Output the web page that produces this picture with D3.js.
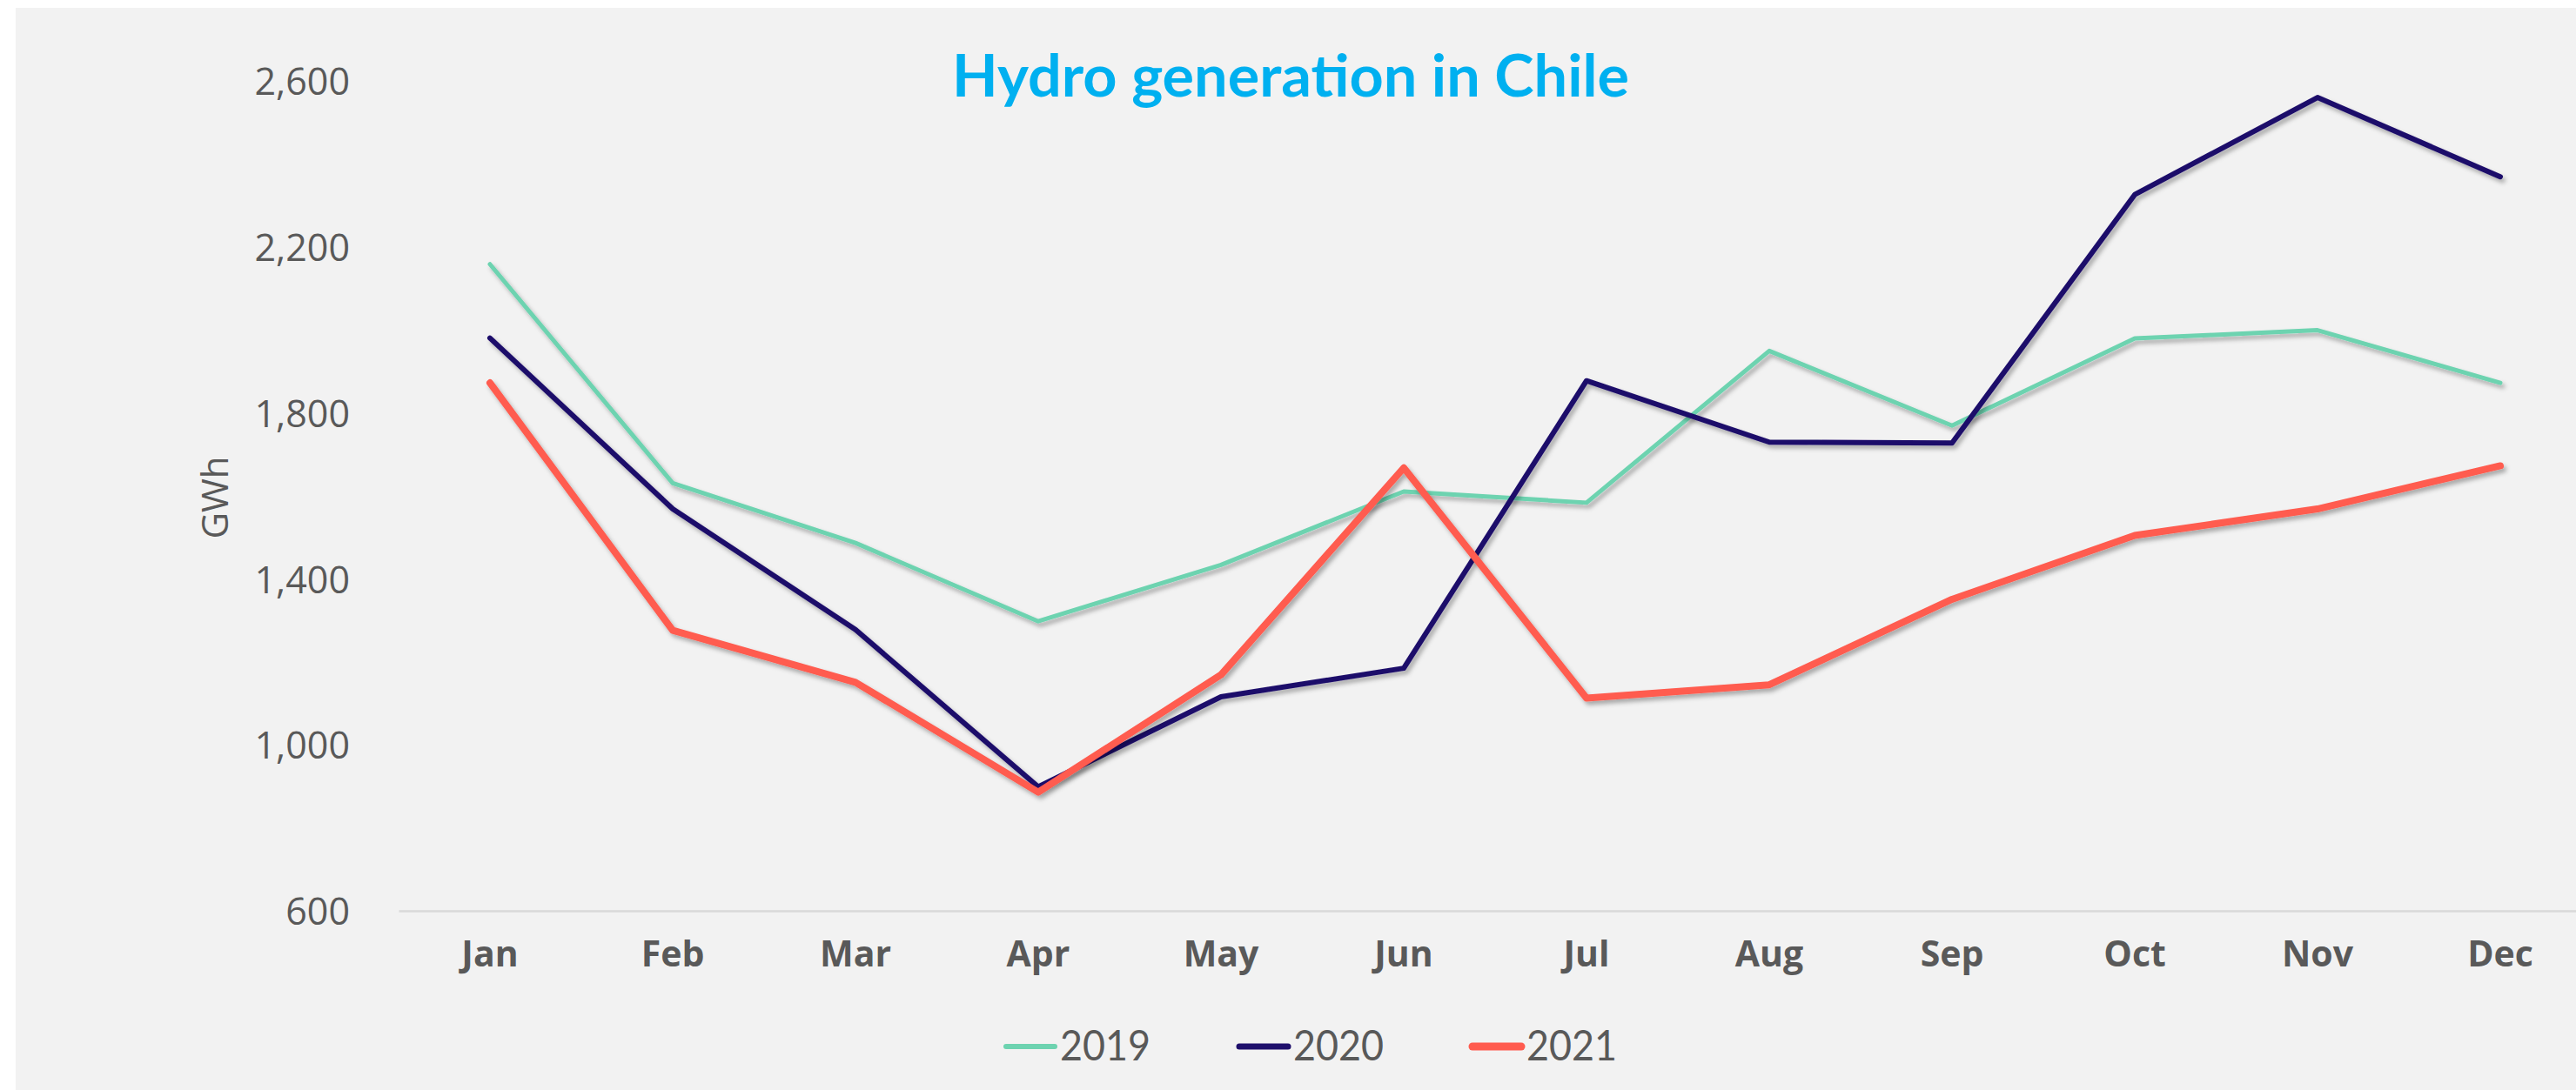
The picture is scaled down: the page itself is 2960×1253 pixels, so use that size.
<!DOCTYPE html>
<html>
<head>
<meta charset="utf-8">
<script src="https://cdn.jsdelivr.net/npm/d3@7"></script>
<style>
  html, body { margin: 0; padding: 0; background: #ffffff; }
  svg { display: block; }
</style>
</head>
<body>
<svg id="chart"></svg>
<script>
// Chart data (GWh)
const months = ["Jan", "Feb", "Mar", "Apr", "May", "Jun", "Jul", "Aug", "Sep", "Oct", "Nov", "Dec"];
const years = ["2019", "2020", "2021"];
const hydro2019 = [2159, 1631, 1487, 1298, 1434, 1611, 1584, 1950, 1770, 1980, 2000, 1873];
const hydro2020 = [1981, 1569, 1278, 899, 1116, 1185, 1878, 1730, 1728, 2327, 2561, 2370];
const hydro2021 = [1873, 1276, 1151, 886, 1169, 1668, 1113, 1145, 1351, 1505, 1569, 1673];
const yTicks = [600, 1000, 1400, 1800, 2200, 2600];

const width = 2960, height = 1253;
const colors = { "2019": "#6dd3b0", "2020": "#1e0f6b", "2021": "#ff5b4f" };
const widths = { "2019": 5, "2020": 6, "2021": 8 };

const series = [
  { year: "2019", values: hydro2019 },
  { year: "2020", values: hydro2020 },
  { year: "2021", values: hydro2021 }
];

const svg = d3.select("#chart")
  .attr("width", width)
  .attr("height", height);

// drop shadow like the office chart
const defs = svg.append("defs");
defs.append("filter")
  .attr("id", "shadow")
  .attr("x", "-5%").attr("y", "-5%")
  .attr("width", "110%").attr("height", "115%")
  .append("feDropShadow")
  .attr("dx", 3).attr("dy", 4)
  .attr("stdDeviation", 2.5)
  .attr("flood-color", "#000")
  .attr("flood-opacity", 0.3);

// grey chart area
svg.append("rect")
  .attr("x", 18).attr("y", 9)
  .attr("width", width - 18).attr("height", height - 9)
  .attr("fill", "#f2f2f2");

const x = d3.scaleBand()
  .domain(months)
  .range([458, 2978])
  .padding(0);

const y = d3.scaleLinear()
  .domain([600, 2600])
  .range([1047, 93.5]);

const cx = m => x(m) + x.bandwidth() / 2;

// title
svg.append("text")
  .attr("x", 1483)
  .attr("y", 111)
  .attr("text-anchor", "middle")
  .attr("textLength", 778)
  .attr("lengthAdjust", "spacingAndGlyphs")
  .style("font-family", "Lato, 'Open Sans', sans-serif")
  .style("font-weight", "bold")
  .style("font-size", "66px")
  .style("fill", "#00b0f0")
  .text("Hydro generation in Chile");

// y axis labels (no line, no ticks)
const yAxis = svg.append("g")
  .attr("transform", "translate(458,0)")
  .call(d3.axisLeft(y).tickValues(yTicks).tickFormat(d3.format(",")).tickSize(0).tickPadding(56));
yAxis.select(".domain").remove();
yAxis.selectAll("text")
  .attr("dy", "0.36em")
  .style("font-family", "'Open Sans', sans-serif")
  .style("font-size", "43px")
  .style("fill", "#595959");

// x axis
const xAxis = svg.append("g")
  .attr("transform", "translate(0,1047)")
  .call(d3.axisBottom(x).tickSize(0).tickPadding(64));
xAxis.select(".domain")
  .attr("stroke", "#d9d9d9")
  .attr("stroke-width", 2.5);
xAxis.selectAll("text")
  .attr("dy", 0)
  .style("font-family", "'Open Sans', sans-serif")
  .style("font-weight", "bold")
  .style("font-size", "41px")
  .style("fill", "#595959");

// y axis title
svg.append("text")
  .attr("transform", "translate(262,572) rotate(-90)")
  .attr("text-anchor", "middle")
  .style("font-family", "'Open Sans', sans-serif")
  .style("font-size", "42px")
  .style("fill", "#595959")
  .text("GWh");

// lines
const line = d3.line()
  .x((d, i) => cx(months[i]))
  .y(d => y(d));

svg.append("g")
  .selectAll("path")
  .data(series)
  .join("path")
  .attr("d", d => line(d.values))
  .attr("fill", "none")
  .attr("stroke", d => colors[d.year])
  .attr("stroke-width", d => widths[d.year])
  .attr("stroke-linejoin", "round")
  .attr("stroke-linecap", "round")
  .attr("filter", "url(#shadow)");

// legend
const legend = svg.append("g")
  .selectAll("g")
  .data(years)
  .join("g")
  .attr("transform", (d, i) => `translate(${1156 + i * 268},1203)`);

legend.append("line")
  .attr("x1", 0).attr("x2", 56)
  .attr("y1", 0).attr("y2", 0)
  .attr("stroke", d => colors[d])
  .attr("stroke-width", d => widths[d] + 1)
  .attr("stroke-linecap", "round");

legend.append("text")
  .attr("x", 62)
  .attr("y", 16)
  .attr("textLength", 104)
  .attr("lengthAdjust", "spacingAndGlyphs")
  .style("font-family", "Lato, sans-serif")
  .style("font-size", "48px")
  .style("fill", "#595959")
  .text(d => d);
</script>
</body>
</html>
